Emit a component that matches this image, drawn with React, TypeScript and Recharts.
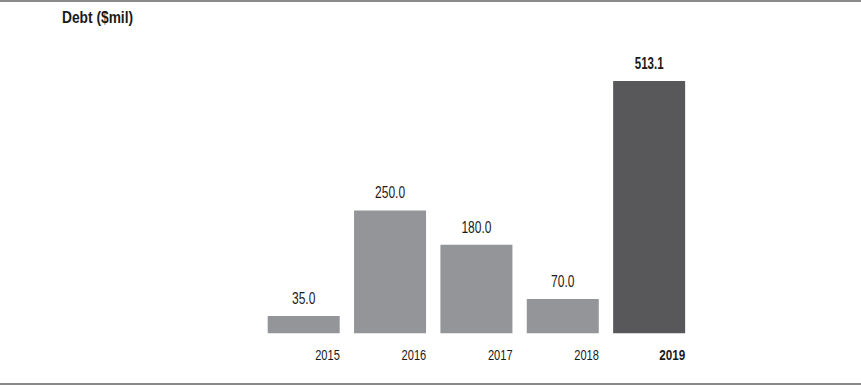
import React from "react";
import { BarChart, Bar, XAxis, YAxis, Cell, LabelList } from "recharts";

const categories = ["2015", "2016", "2017", "2018", "2019"];
const debtValues = [35.0, 250.0, 180.0, 70.0, 513.1];
const valueLabels = ["35.0", "250.0", "180.0", "70.0", "513.1"];
const highlightYear = "2019";

const data = categories.map((c, i) => ({ year: c, debt: debtValues[i], label: valueLabels[i] }));

const FONT = "'Liberation Sans', Arial, sans-serif";

const Tick = (props: any) => {
  const { x, y, payload } = props;
  const bold = payload.value === highlightYear;
  return (
    <g transform={`translate(${x + 36},${y + 18.5}) scale(${bold ? 0.78 : 0.74},1)`}>
      <text
        x={0}
        y={0}
        textAnchor="end"
        fontFamily={FONT}
        fontSize={15}
        fontWeight={bold ? 700 : 400}
        fill="#1a1a1a"
      >
        {payload.value}
      </text>
    </g>
  );
};

const ValueLabel = (props: any) => {
  const { x, y, width, value, index } = props;
  const bold = categories[index] === highlightYear;
  return (
    <g transform={`translate(${x + width / 2},${y - 12}) scale(${bold ? 0.72 : 0.75},1)`}>
      <text
        x={0}
        y={0}
        textAnchor="middle"
        fontFamily={FONT}
        fontSize={16}
        fontWeight={bold ? 700 : 400}
        fill="#1a1a1a"
      >
        {valueLabels[index] ?? value}
      </text>
    </g>
  );
};

export default function App() {
  return (
    <div style={{ position: "absolute", left: 0, top: 0, width: 861, height: 386, background: "#fff" }}>
      <div style={{ position: "absolute", left: 0, top: 0, width: 861, height: 1.5, background: "#8a8a8c" }} />
      <div style={{ position: "absolute", left: 0, top: 383, width: 861, height: 1.5, background: "#8a8a8c" }} />
      <div
        style={{
          position: "absolute",
          left: 62,
          top: 9,
          fontFamily: FONT,
          fontWeight: 700,
          fontSize: 16,
          color: "#1a1a1a",
          transform: "scaleX(0.86)",
          transformOrigin: "left top",
          whiteSpace: "nowrap",
        }}
      >
        Debt ($mil)
      </div>
      <BarChart
        width={861}
        height={386}
        data={data}
        margin={{ top: 38.3, right: 168.5, bottom: 12.7, left: 260.7 }}
        barSize={72}
      >
        <XAxis dataKey="year" axisLine={false} tickLine={false} height={40} tick={<Tick />} interval={0} />
        <YAxis hide domain={[0, 600]} width={0} />
        <Bar dataKey="debt" isAnimationActive={false}>
          {data.map((d) => (
            <Cell key={d.year} fill={d.year === highlightYear ? "#58585a" : "#939598"} />
          ))}
          <LabelList dataKey="label" content={<ValueLabel />} />
        </Bar>
      </BarChart>
    </div>
  );
}
